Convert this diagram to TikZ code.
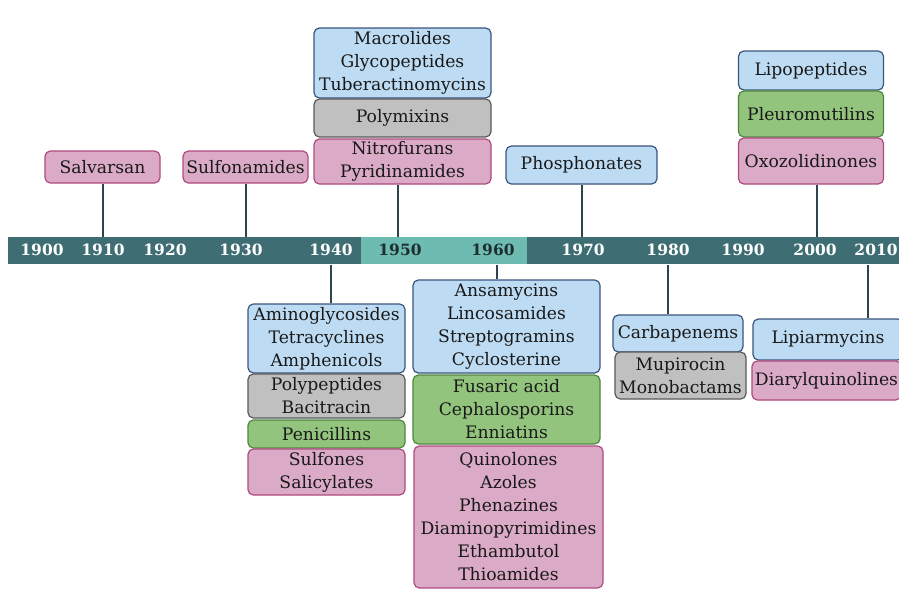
\documentclass[tikz,border=0pt]{standalone}
\usepackage{fontspec}
\setmainfont{DejaVu Serif}
\usetikzlibrary{calc}
\definecolor{bluefill}{RGB}{189,220,243}
\definecolor{bluedraw}{RGB}{58,86,125}
\definecolor{grayfill}{RGB}{192,192,192}
\definecolor{graydraw}{RGB}{90,90,90}
\definecolor{greenfill}{RGB}{147,196,125}
\definecolor{greendraw}{RGB}{78,135,62}
\definecolor{pinkfill}{RGB}{218,170,198}
\definecolor{pinkdraw}{RGB}{176,74,126}
\definecolor{bardark}{RGB}{62,110,115}
\definecolor{barlight}{RGB}{110,188,177}
\definecolor{linecol}{RGB}{45,70,78}
\definecolor{txt}{RGB}{25,25,25}
\definecolor{yrdark}{RGB}{30,45,48}
\tikzset{
  cls/.style={rounded corners=4pt, line width=0.9pt, inner sep=0pt, align=center,
    text=txt, font=\fontsize{12.9pt}{17.25pt}\selectfont},
  bluebox/.style={cls, fill=bluefill, draw=bluedraw},
  graybox/.style={cls, fill=grayfill, draw=graydraw},
  greenbox/.style={cls, fill=greenfill, draw=greendraw},
  pinkbox/.style={cls, fill=pinkfill, draw=pinkdraw},
  wh/.style 2 args={minimum width=#1*0.75pt, minimum height=#2*0.75pt},
  yr/.style={font=\fontsize{11.6pt}{13pt}\selectfont\bfseries, text=white, inner sep=0pt},
  yrd/.style={yr, text=yrdark},
  conn/.style={draw=linecol, line width=1.5pt},
}
\begin{document}
\begin{tikzpicture}[x=0.75pt,y=-0.75pt]
\useasboundingbox (0,0) rectangle (899,589);
\clip (0,0) rectangle (899,589);
\fill[white] (0,0) rectangle (899,589);
% timeline bar
\node[fill=bardark, inner sep=0pt, minimum width=900*0.75pt, minimum height=27*0.75pt, anchor=north west] (bar) at (8,237) {};
\node[fill=barlight, inner sep=0pt, minimum width=166*0.75pt, minimum height=27*0.75pt, anchor=north west] (barl) at (361,237) {};
% year labels
\node[yr] (y1900) at (42,250) {1900};
\node[yr] (y1910) at (103,250) {1910};
\node[yr] (y1920) at (165,250) {1920};
\node[yr] (y1930) at (241,250) {1930};
\node[yr] (y1940) at (331,250) {1940};
\node[yrd] (y1950) at (400,250) {1950};
\node[yrd] (y1960) at (493,250) {1960};
\node[yr] (y1970) at (583,250) {1970};
\node[yr] (y1980) at (668,250) {1980};
\node[yr] (y1990) at (743,250) {1990};
\node[yr] (y2000) at (815,250) {2000};
\node[yr] (y2010) at (876,250) {2010};
% boxes above
\node[pinkbox, wh={115}{32}] (salv) at (102.5,167) {Salvarsan};
\node[pinkbox, wh={125}{32}] (sulfa) at (245.5,167) {Sulfonamides};
\node[bluebox, wh={177}{70}] (macro) at (402.5,63) {Macrolides\\Glycopeptides\\Tuberactinomycins};
\node[graybox, wh={177}{38}] (polym) at (402.5,118) {Polymixins};
\node[pinkbox, wh={177}{45}] (nitro) at (402.5,161.5) {Nitrofurans\\Pyridinamides};
\node[bluebox, wh={151}{38}] (phos) at (581.5,165) {Phosphonates};
\node[bluebox, wh={145}{39}] (lipo) at (811,70.5) {Lipopeptides};
\node[greenbox, wh={145}{46}] (pleu) at (811,114) {Pleuromutilins};
\node[pinkbox, wh={145}{46}] (oxo) at (811,161) {Oxozolidinones};
% boxes below
\node[bluebox, wh={157}{69}] (amino) at (326.5,338.5) {Aminoglycosides\\Tetracyclines\\Amphenicols};
\node[graybox, wh={157}{44}] (polyp) at (326.5,396) {Polypeptides\\Bacitracin};
\node[greenbox, wh={157}{28}] (peni) at (326.5,434) {Penicillins};
\node[pinkbox, wh={157}{46}] (sulfo) at (326.5,472) {Sulfones\\Salicylates};
\node[bluebox, wh={187}{93}] (ansa) at (506.5,326.5) {Ansamycins\\Lincosamides\\Streptogramins\\Cyclosterine};
\node[greenbox, wh={187}{69}] (fusa) at (506.5,409.5) {Fusaric acid\\Cephalosporins\\Enniatins};
\node[pinkbox, wh={189}{142}] (quino) at (508.5,517) {Quinolones\\Azoles\\Phenazines\\Diaminopyrimidines\\Ethambutol\\Thioamides};
\node[bluebox, wh={130}{37}] (carba) at (678,333.5) {Carbapenems};
\node[graybox, wh={131}{47}] (mupi) at (680.5,375.5) {Mupirocin\\Monobactams};
\node[bluebox, wh={150}{41}] (lipia) at (828,339.5) {Lipiarmycins};
\node[pinkbox, wh={149}{39}] (diary) at (826.5,380.5) {Diarylquinolines};
% connectors above
\draw[conn] (salv.south) -- (salv.south |- bar.north);
\draw[conn] (sulfa.south) -- (sulfa.south |- bar.north);
\draw[conn] ($(nitro.south)+(-5,0)$) coordinate (n1) -- (n1 |- bar.north);
\draw[conn] (phos.south) -- (phos.south |- bar.north);
\draw[conn] ($(oxo.south)+(6,0)$) coordinate (o1) -- (o1 |- bar.north);
% connectors below
\draw[conn] ($(amino.north)+(4.5,0)$) coordinate (a1) -- (a1 |- bar.south);
\draw[conn] ($(ansa.north)+(-9.5,0)$) coordinate (s1) -- (s1 |- bar.south);
\draw[conn] ($(carba.north)+(-10,0)$) coordinate (c1) -- (c1 |- bar.south);
\draw[conn] ($(lipia.north)+(40,0)$) coordinate (l1) -- (l1 |- bar.south);
\end{tikzpicture}
\end{document}
